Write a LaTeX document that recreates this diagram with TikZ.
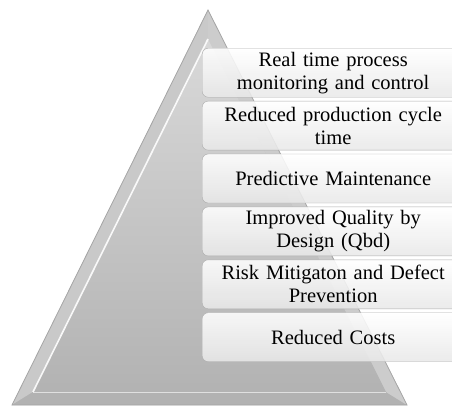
\documentclass[tikz,border=0pt]{standalone}
\usepackage{fontspec}
\setmainfont{Liberation Serif}
\usetikzlibrary{positioning}

\begin{document}
\begin{tikzpicture}[x=1pt,y=-1pt,
  level/.style={draw=gray!65,rounded corners=6pt,top color=white,bottom color=gray!18,
    fill opacity=0.88,text opacity=1,minimum width=262pt,minimum height=49pt,
    text width=250pt,align=center,inner sep=0pt,
    font=\fontsize{20.5}{23}\selectfont,anchor=north west},
  node distance=3.5pt]
  \useasboundingbox (0,0) rectangle (452,405);
  \clip (0,0) rectangle (452,405);
  % pyramid with bevel
  \coordinate (top) at (208,10);
  \coordinate (bl) at (12,405);
  \coordinate (br) at (407,405);
  \coordinate (itop) at (208,39);
  \coordinate (ibl) at (33,392);
  \coordinate (ibr) at (386,392);
  \fill[gray!52] (top) -- (br) -- (bl) -- cycle;
  \fill[gray!42] (top) -- (itop) -- (ibl) -- (bl) -- cycle;
  \fill[gray!60] (bl) -- (ibl) -- (ibr) -- (br) -- cycle;
  \fill[gray!40] (top) -- (br) -- (ibr) -- (itop) -- cycle;
  \shade[top color=gray!30,bottom color=gray!60] (itop) -- (ibr) -- (ibl) -- cycle;
  \draw[white,line width=1.6pt,opacity=0.9] (itop) -- (ibl);
  \draw[white,line width=0.8pt,opacity=0.6] (ibl) -- (ibr);
  \draw[gray!70,line width=0.8pt] (top) -- (br) -- (bl) -- cycle;
  % levels
  \node[level] (b1) at (202,48) {Real time process\\monitoring and control};
  \node[level,below=of b1] (b2) {Reduced production cycle\\time};
  \node[level,below=of b2] (b3) {Predictive Maintenance};
  \node[level,below=of b3] (b4) {Improved Quality by\\Design (Qbd)};
  \node[level,below=of b4] (b5) {Risk Mitigaton and Defect\\Prevention};
  \node[level,below=of b5] (b6) {Reduced Costs};
\end{tikzpicture}
\end{document}
